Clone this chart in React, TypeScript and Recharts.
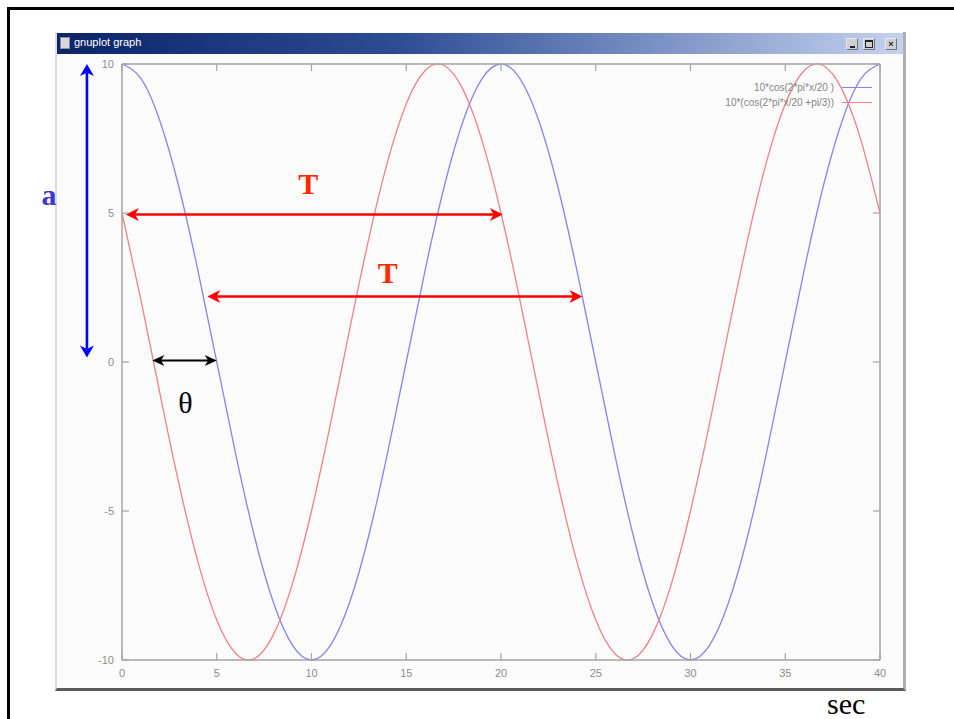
import React from 'react';
import { ComposedChart, Line, XAxis, YAxis, ReferenceLine, Legend } from 'recharts';

// time axis (sec) and the two waves
const timeSec = [0, 1, 2, 3, 4, 5, 6, 7, 8, 9, 10, 11, 12, 13, 14, 15, 16, 17, 18, 19, 20, 21, 22, 23, 24, 25, 26, 27, 28, 29, 30, 31, 32, 33, 34, 35, 36, 37, 38, 39, 40];
const cosWave = [10, 9.51, 8.09, 5.88, 3.09, 0, -3.09, -5.88, -8.09, -9.51, -10, -9.51, -8.09, -5.88, -3.09, 0, 3.09, 5.88, 8.09, 9.51, 10, 9.51, 8.09, 5.88, 3.09, 0, -3.09, -5.88, -8.09, -9.51, -10, -9.51, -8.09, -5.88, -3.09, 0, 3.09, 5.88, 8.09, 9.51, 10];
const shiftedWave = [5, 2.08, -1.05, -4.07, -6.69, -8.66, -9.78, -9.95, -9.14, -7.43, -5, -2.08, 1.05, 4.07, 6.69, 8.66, 9.78, 9.95, 9.14, 7.43, 5, 2.08, -1.05, -4.07, -6.69, -8.66, -9.78, -9.95, -9.14, -7.43, -5, -2.08, 1.05, 4.07, 6.69, 8.66, 9.78, 9.95, 9.14, 7.43, 5];

const xTicks = [0, 5, 10, 15, 20, 25, 30, 35, 40];
const yTicks = [-10, -5, 0, 5, 10];
const seriesNames = ['10*cos(2*pi*x/20 )', '10*(cos(2*pi*x/20 +pi/3))'];

const chartData = timeSec.map((t, i) => ({ t, blue: cosWave[i], red: shiftedWave[i] }));

const FRAME = '#a4a4a4';
const TICK_TEXT = '#8e8e8e';
const SANS = '"Liberation Sans", Arial, sans-serif';
const SERIF = '"Liberation Serif", "Times New Roman", serif';

// gnuplot style inward ticks
const BottomTick = ({ x, y, payload }: any) => (
  <g>
    <line x1={x} y1={y} x2={x} y2={y - 7} stroke={FRAME} strokeWidth={1.2} />
    <text x={x} y={y + 17} textAnchor="middle" fontSize={11} fill={TICK_TEXT} fontFamily={SANS}>
      {payload.value}
    </text>
  </g>
);
const TopTick = ({ x, y }: any) => <line x1={x} y1={y} x2={x} y2={y + 7} stroke={FRAME} strokeWidth={1.2} />;
const LeftTick = ({ x, y, payload }: any) => (
  <g>
    <line x1={x} y1={y} x2={x + 7} y2={y} stroke={FRAME} strokeWidth={1.2} />
    <text x={x - 8} y={y + 4} textAnchor="end" fontSize={11} fill={TICK_TEXT} fontFamily={SANS}>
      {payload.value}
    </text>
  </g>
);
const RightTick = ({ x, y }: any) => <line x1={x} y1={y} x2={x - 7} y2={y} stroke={FRAME} strokeWidth={1.2} />;

function headPoints(tx: number, ty: number, ux: number, uy: number, len: number, half: number) {
  const bx = tx - ux * len;
  const by = ty - uy * len;
  const mx = tx - ux * len * 0.72;
  const my = ty - uy * len * 0.72;
  const nx = -uy;
  const ny = ux;
  return `${tx},${ty} ${bx + nx * half},${by + ny * half} ${mx},${my} ${bx - nx * half},${by - ny * half}`;
}

type ArrowLabel = { text: string; dx: number; dy: number; size: number; bold: boolean; fill: string };

// double headed annotation arrow, drawn from the reference line end points
const arrowShape = (color: string, width: number, len: number, half: number, label: ArrowLabel) => (p: any) => {
  const { x1, y1, x2, y2 } = p;
  const d = Math.hypot(x2 - x1, y2 - y1) || 1;
  const ux = (x2 - x1) / d;
  const uy = (y2 - y1) / d;
  const inset = len * 0.7;
  return (
    <g>
      <line x1={x1 + ux * inset} y1={y1 + uy * inset} x2={x2 - ux * inset} y2={y2 - uy * inset} stroke={color} strokeWidth={width} />
      <polygon points={headPoints(x2, y2, ux, uy, len, half)} fill={color} />
      <polygon points={headPoints(x1, y1, -ux, -uy, len, half)} fill={color} />
      <text
        x={(x1 + x2) / 2 + label.dx}
        y={(y1 + y2) / 2 + label.dy}
        textAnchor="middle"
        fontSize={label.size}
        fontWeight={label.bold ? 'bold' : 'normal'}
        fill={label.fill}
        fontFamily={SERIF}
      >
        {label.text}
      </text>
    </g>
  );
};

const LegendBox = ({ payload }: any) => {
  const items = (payload || [])
    .filter((item: any) => seriesNames.includes(item.value))
    .sort((a: any, b: any) => seriesNames.indexOf(a.value) - seriesNames.indexOf(b.value));
  return (
    <div style={{ display: 'flex', flexDirection: 'column', alignItems: 'flex-end', fontFamily: SANS, fontSize: 10, color: '#858585' }}>
      {items.map((item: any) => (
        <div key={item.value} style={{ display: 'flex', alignItems: 'center', height: 15 }}>
          <span>{item.value}</span>
          <span style={{ display: 'inline-block', width: 30, marginLeft: 8, borderTop: `1.3px solid ${item.color}` }} />
        </div>
      ))}
    </div>
  );
};

const TitleButton = ({ left, glyph }: { left: number; glyph: React.ReactNode }) => (
  <div
    style={{
      position: 'absolute',
      left,
      top: 5,
      width: 12,
      height: 12,
      background: '#cfcfd6',
      border: '1px solid #e8e8ee',
      borderRightColor: '#777',
      borderBottomColor: '#777',
      boxSizing: 'border-box',
      display: 'flex',
      alignItems: 'center',
      justifyContent: 'center',
    }}
  >
    {glyph}
  </div>
);

export default function App() {
  return (
    <div style={{ position: 'absolute', left: 0, top: 0, width: 954, height: 719, overflow: 'hidden', background: '#fff' }}>
      {/* slide frame */}
      <div style={{ position: 'absolute', left: 7, top: 7, width: 980, height: 740, borderLeft: '3px solid #000', borderTop: '3px solid #000' }} />

      {/* gnuplot window */}
      <div
        style={{
          position: 'absolute',
          left: 55,
          top: 32,
          width: 851,
          height: 659,
          background: '#fbfbfb',
          borderLeft: '2px solid #dcdcdc',
          borderRight: '3px solid #b0b0b0',
          borderBottom: '3px solid #5a5a5a',
          boxSizing: 'border-box',
        }}
      />
      <div
        style={{
          position: 'absolute',
          left: 57,
          top: 33,
          width: 846,
          height: 21,
          background: 'linear-gradient(to right, #0c2468 0%, #2d4c94 40%, #c4d2f0 100%)',
        }}
      >
        <div style={{ position: 'absolute', left: 3, top: 4, width: 10, height: 12, background: '#d8d8de', border: '1px solid #8a8a9a', boxSizing: 'border-box' }} />
        <div style={{ position: 'absolute', left: 17, top: 3, color: '#fff', fontFamily: SANS, fontSize: 11 }}>gnuplot graph</div>
        <TitleButton left={789} glyph={<div style={{ width: 5, height: 2, background: '#222', marginTop: 5 }} />} />
        <TitleButton left={806} glyph={<div style={{ width: 6, height: 5, border: '1px solid #222', borderTopWidth: 2 }} />} />
        <TitleButton left={828} glyph={<div style={{ fontSize: 9, lineHeight: '9px', color: '#222', fontFamily: SANS, fontWeight: 'bold' }}>×</div>} />
      </div>

      <div style={{ position: 'absolute', left: 0, top: 0 }}>
        <ComposedChart width={954} height={719} data={chartData} margin={{ top: 63, right: 73, bottom: 29, left: 82 }}>
          <XAxis
            dataKey="t"
            type="number"
            domain={[0, 40]}
            ticks={xTicks}
            interval={0}
            height={30}
            tickSize={0}
            tickMargin={0}
            tickLine={false}
            axisLine={{ stroke: FRAME, strokeWidth: 1.5 }}
            tick={<BottomTick />}
          />
          <XAxis
            xAxisId="top"
            orientation="top"
            dataKey="t"
            type="number"
            domain={[0, 40]}
            ticks={xTicks}
            interval={0}
            height={1}
            tickSize={0}
            tickMargin={0}
            tickLine={false}
            axisLine={{ stroke: FRAME, strokeWidth: 1.5 }}
            tick={<TopTick />}
          />
          <YAxis
            type="number"
            domain={[-10, 10]}
            ticks={yTicks}
            interval={0}
            width={40}
            tickSize={0}
            tickMargin={0}
            tickLine={false}
            axisLine={{ stroke: FRAME, strokeWidth: 1.5 }}
            tick={<LeftTick />}
          />
          <YAxis
            yAxisId="right"
            orientation="right"
            type="number"
            domain={[-10, 10]}
            ticks={yTicks}
            interval={0}
            width={1}
            tickSize={0}
            tickMargin={0}
            tickLine={false}
            axisLine={{ stroke: FRAME, strokeWidth: 1.5 }}
            tick={<RightTick />}
          />

          <Line type="natural" dataKey="blue" name={seriesNames[0]} stroke="#8585ea" strokeWidth={1.3} dot={false} isAnimationActive={false} />
          <Line type="natural" dataKey="red" name={seriesNames[1]} stroke="#ee8088" strokeWidth={1.3} dot={false} isAnimationActive={false} />
          {/* invisible copy so the mirrored top/right axes of the frame get drawn */}
          <Line
            xAxisId="top"
            yAxisId="right"
            dataKey="blue"
            stroke="none"
            dot={false}
            activeDot={false}
            legendType="none"
            isAnimationActive={false}
          />

          <Legend
            layout="horizontal"
            verticalAlign="middle"
            align="center"
            content={<LegendBox />}
            wrapperStyle={{ top: 80, left: 592, width: 280 }}
          />

          {/* amplitude */}
          <ReferenceLine
            segment={[{ x: -1.85, y: 10 }, { x: -1.85, y: 0.15 }]}
            ifOverflow="visible"
            shape={arrowShape('#0000ff', 2.6, 12, 7, { text: 'a', dx: -38, dy: -6, size: 30, bold: true, fill: '#3a3ad0' })}
          />
          {/* period of each wave */}
          <ReferenceLine
            segment={[{ x: 0.2, y: 4.95 }, { x: 20.1, y: 4.95 }]}
            ifOverflow="visible"
            shape={arrowShape('#ff0000', 2.6, 13, 6.5, { text: 'T', dx: -6, dy: -20, size: 30, bold: true, fill: '#ff2a00' })}
          />
          <ReferenceLine
            segment={[{ x: 4.5, y: 2.2 }, { x: 24.3, y: 2.2 }]}
            ifOverflow="visible"
            shape={arrowShape('#ff0000', 2.6, 13, 6.5, { text: 'T', dx: -7, dy: -13, size: 30, bold: true, fill: '#ff2a00' })}
          />
          {/* phase shift */}
          <ReferenceLine
            segment={[{ x: 1.6, y: 0.05 }, { x: 5.0, y: 0.05 }]}
            ifOverflow="visible"
            shape={arrowShape('#000000', 2.2, 12, 5.5, { text: 'θ', dx: 1, dy: 52, size: 30, bold: false, fill: '#000' })}
          />
        </ComposedChart>
      </div>

      <div style={{ position: 'absolute', left: 827, top: 689, fontFamily: SERIF, fontSize: 30, lineHeight: '30px', color: '#000' }}>sec</div>
    </div>
  );
}
